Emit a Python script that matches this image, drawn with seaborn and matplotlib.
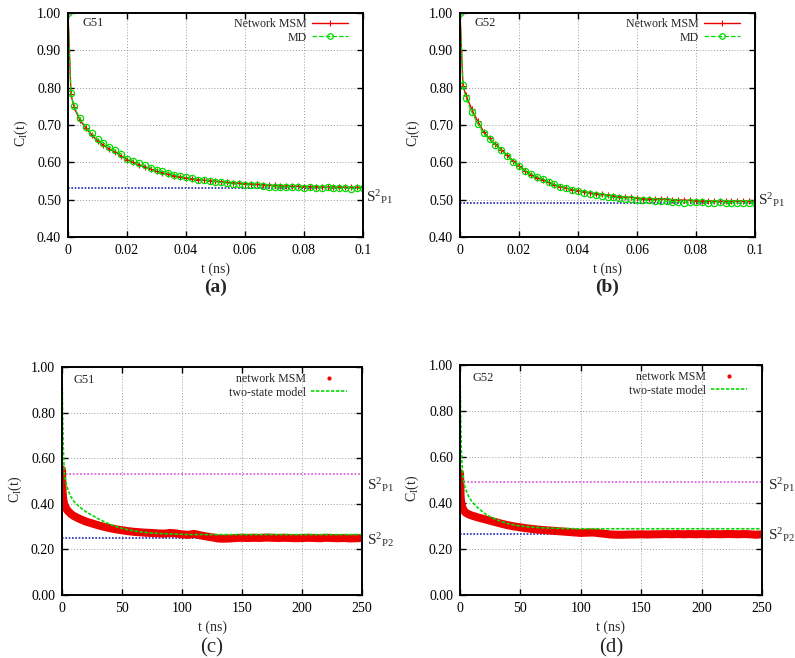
import numpy as np
import pandas as pd
import matplotlib
matplotlib.use("Agg")
import matplotlib.pyplot as plt
import seaborn as sns
from matplotlib.lines import Line2D

# tiempos (ns)
t_top = [0, 0.001] + [round(0.002 * k, 3) for k in range(1, 51)]
t_bot = [0, 0.5, 1, 2, 3, 4, 5, 7.5] + list(range(10, 251, 5))

# panel (a) G51, ventana corta
msm_a = [1.000, 0.783, 0.748, 0.714, 0.692, 0.674, 0.657, 0.646, 0.636, 0.627, 0.617, 0.607, 0.600,
         0.594, 0.588, 0.582, 0.576, 0.572, 0.568, 0.564, 0.561, 0.558, 0.556, 0.554, 0.552, 0.551,
         0.549, 0.548, 0.546, 0.545, 0.544, 0.543, 0.542, 0.541, 0.540, 0.539, 0.538, 0.537, 0.537,
         0.536, 0.536, 0.535, 0.535, 0.535, 0.534, 0.534, 0.534, 0.534, 0.533, 0.533, 0.533, 0.533]
md_a = [1.000, 0.785, 0.750, 0.718, 0.695, 0.678, 0.662, 0.652, 0.642, 0.632, 0.622, 0.610, 0.604,
        0.598, 0.592, 0.586, 0.580, 0.576, 0.572, 0.567, 0.563, 0.560, 0.557, 0.554, 0.552, 0.550,
        0.548, 0.546, 0.544, 0.542, 0.541, 0.540, 0.539, 0.538, 0.537, 0.533, 0.535, 0.534, 0.534,
        0.533, 0.533, 0.532, 0.533, 0.532, 0.532, 0.533, 0.532, 0.530, 0.531, 0.529, 0.530, 0.531]

# panel (b) G52, ventana corta
msm_b = [1.000, 0.805, 0.780, 0.742, 0.710, 0.682, 0.664, 0.648, 0.634, 0.619, 0.604, 0.590, 0.578,
         0.567, 0.558, 0.553, 0.546, 0.540, 0.535, 0.531, 0.527, 0.524, 0.521, 0.518, 0.516, 0.514,
         0.512, 0.510, 0.508, 0.507, 0.506, 0.505, 0.503, 0.502, 0.502, 0.503, 0.502, 0.500, 0.499,
         0.499, 0.498, 0.497, 0.497, 0.497, 0.496, 0.496, 0.496, 0.496, 0.497, 0.496, 0.496, 0.496]
md_b = [1.000, 0.808, 0.772, 0.735, 0.703, 0.678, 0.662, 0.647, 0.633, 0.618, 0.602, 0.589, 0.578,
        0.569, 0.562, 0.556, 0.548, 0.541, 0.535, 0.531, 0.527, 0.523, 0.519, 0.516, 0.512, 0.510,
        0.508, 0.506, 0.504, 0.502, 0.501, 0.500, 0.499, 0.498, 0.497, 0.496, 0.496, 0.495, 0.494,
        0.492, 0.494, 0.493, 0.493, 0.492, 0.492, 0.493, 0.492, 0.492, 0.490, 0.491, 0.491, 0.492]

# panel (c) G51, ventana larga
msm_c = [0.55, 0.45, 0.42, 0.395, 0.385, 0.375, 0.368, 0.355,
         0.346, 0.333, 0.322, 0.314, 0.306, 0.299, 0.293, 0.288, 0.284,
         0.280, 0.277, 0.275, 0.273, 0.272, 0.270, 0.269, 0.272, 0.270, 0.266,
         0.264, 0.268, 0.262, 0.257, 0.253, 0.248, 0.247, 0.248, 0.250, 0.251,
         0.250, 0.251, 0.250, 0.252, 0.251, 0.250, 0.251, 0.250, 0.249, 0.250,
         0.251, 0.250, 0.249, 0.251, 0.250, 0.249, 0.250, 0.248, 0.249, 0.250]
two_c = [1.00, 0.80, 0.65, 0.53, 0.50, 0.48, 0.46, 0.43,
         0.410, 0.385, 0.365, 0.350, 0.335, 0.322, 0.310, 0.300, 0.292,
         0.286, 0.281, 0.277, 0.274, 0.272, 0.270, 0.269, 0.268, 0.267, 0.266,
         0.265, 0.265, 0.265, 0.265, 0.265, 0.265, 0.265, 0.265, 0.265, 0.265,
         0.265, 0.265, 0.265, 0.265, 0.265, 0.265, 0.265, 0.265, 0.265, 0.265,
         0.265, 0.265, 0.265, 0.265, 0.265, 0.265, 0.265, 0.265, 0.265, 0.265]

# panel (d) G52, ventana larga
msm_d = [0.53, 0.43, 0.40, 0.380, 0.370, 0.362, 0.357, 0.350,
         0.345, 0.337, 0.330, 0.323, 0.316, 0.309, 0.303, 0.298, 0.294,
         0.290, 0.287, 0.284, 0.282, 0.280, 0.278, 0.276, 0.274, 0.272, 0.270,
         0.271, 0.272, 0.269, 0.266, 0.263, 0.262, 0.262, 0.263, 0.263, 0.264,
         0.263, 0.264, 0.264, 0.265, 0.264, 0.265, 0.264, 0.265, 0.264, 0.265,
         0.264, 0.265, 0.264, 0.265, 0.265, 0.264, 0.265, 0.264, 0.262, 0.264]
two_d = [1.00, 0.78, 0.64, 0.54, 0.50, 0.47, 0.455, 0.425,
         0.405, 0.378, 0.356, 0.340, 0.328, 0.318, 0.310, 0.304, 0.300,
         0.297, 0.295, 0.293, 0.292, 0.291, 0.290, 0.289, 0.289, 0.288, 0.288,
         0.288, 0.288, 0.288, 0.288, 0.288, 0.288, 0.288, 0.288, 0.288, 0.288,
         0.288, 0.288, 0.288, 0.288, 0.288, 0.288, 0.288, 0.288, 0.288, 0.288,
         0.288, 0.288, 0.288, 0.288, 0.288, 0.288, 0.288, 0.288, 0.288, 0.288]

# parametros de orden
s2p1 = {"G51": 0.53, "G52": 0.49}
s2p2 = {"G51": 0.25, "G52": 0.265}

RED = "#ee0000"
GREEN = "#00dd00"
BLUE = "#2020b0"
MAGENTA = "#dd66dd"

sns.set_theme(style="ticks")
plt.rcParams["font.family"] = ["Liberation Serif", "DejaVu Serif"]
plt.rcParams["mathtext.fontset"] = "stix"

fig = plt.figure(figsize=(7.95, 6.58), dpi=100)
W, H = 795, 658


def axes_px(left, top, right, bottom):
    return fig.add_axes([left / W, 1 - bottom / H, (right - left) / W, (bottom - top) / H])


def style_axes(ax):
    for sp in ax.spines.values():
        sp.set_linewidth(1.4)
        sp.set_color("black")
    ax.tick_params(direction="in", top=True, right=True, length=4, width=1,
                   labelsize=10, colors="black", pad=5)
    ax.grid(True, color="#9a9a9a", linestyle=(0, (1, 2)), linewidth=0.7)
    ax.set_ylabel(r"$\mathregular{C_I(t)}$", fontsize=10)
    ax.yaxis.set_label_coords(-0.128, 0.465)


def s2_label(ax, box, x_px, y_px, sub):
    # y_px: centro de la "S" en pixeles de la figura
    fx = (x_px - box[0]) / (box[2] - box[0])
    fy = (box[3] - (y_px + 5)) / (box[3] - box[1])
    ax.text(fx, fy, r"$\mathregular{S^2{}_{%s}}$" % sub, transform=ax.transAxes,
            fontsize=11, va="baseline", ha="left", clip_on=False)


def add_legend(ax, handles, labels, anchor):
    ax.legend(handles, labels, loc="upper right", bbox_to_anchor=anchor, frameon=False,
              markerfirst=False, fontsize=8.6, handlelength=3.0, handletextpad=0.45,
              labelspacing=0.1, borderaxespad=0, borderpad=0)


# ---- paneles superiores ----
top_panels = [("G51", msm_a, md_a, (68, 13, 363, 237), "(a)", (366, 197)),
              ("G52", msm_b, md_b, (460, 13, 755, 237), "(b)", (758, 200))]
for name, msm, md, box, letter, lab in top_panels:
    ax = axes_px(*box)
    df = pd.DataFrame({"t": t_top, "msm": msm, "md": md})
    ax.axhline(s2p1[name], color=BLUE, linestyle=(0, (1, 1)), linewidth=1.2)
    sns.lineplot(data=df, x="t", y="msm", ax=ax, color=RED, linewidth=1, marker="+",
                 markersize=5, markeredgewidth=0.8, markeredgecolor=RED)
    sns.lineplot(data=df, x="t", y="md", ax=ax, color=GREEN, linewidth=0.9, linestyle="--",
                 marker="o", markersize=4.5, markerfacecolor="none", markeredgecolor=GREEN,
                 markeredgewidth=0.9)
    ax.set_xlim(0, 0.1)
    ax.set_ylim(0.4, 1.0)
    ax.set_xticks([0, 0.02, 0.04, 0.06, 0.08, 0.1])
    ax.set_xticklabels(["0", "0.02", "0.04", "0.06", "0.08", "0.1"])
    ax.set_yticks(np.arange(0.4, 1.01, 0.1))
    ax.set_yticklabels(["%.2f" % v for v in np.arange(0.4, 1.01, 0.1)])
    style_axes(ax)
    ax.set_xlabel("t (ns)", fontsize=10, labelpad=4)
    ax.text(0.05, 0.955, name, transform=ax.transAxes, fontsize=9, va="center")
    s2_label(ax, box, lab[0], lab[1], "P1")
    handles = [Line2D([], [], color=RED, lw=1, marker="+", markersize=5, markeredgewidth=0.8),
               Line2D([], [], color=GREEN, lw=0.9, ls="--", marker="o", markersize=4,
                      markerfacecolor="none", markeredgewidth=0.9)]
    add_legend(ax, handles, ["Network MSM", "MD"], (0.95, 0.976))
    cx = (box[0] + box[2]) / 2 / W
    fig.text(cx, 1 - 287 / H, letter, fontsize=14, fontweight="bold", ha="center", va="center")

# ---- paneles inferiores ----
bot_panels = [("G51", msm_c, two_c, (62, 367, 362, 595), "(c)", [(367, 485, "P1"), (367, 540, "P2")]),
              ("G52", msm_d, two_d, (460, 365, 762, 595), "(d)", [(768, 485, "P1"), (768, 535, "P2")])]
for name, msm, two, box, letter, labs in bot_panels:
    ax = axes_px(*box)
    df = pd.DataFrame({"t": t_bot, "msm": msm, "two": two})
    ax.axhline(s2p1[name], color=MAGENTA, linestyle=(0, (1, 1)), linewidth=1.3)
    ax.axhline(s2p2[name], color=BLUE, linestyle=(0, (1, 1)), linewidth=1.2)
    sns.lineplot(data=df, x="t", y="msm", ax=ax, color=RED, linewidth=5.8,
                 solid_capstyle="round", solid_joinstyle="round")
    sns.lineplot(data=df, x="t", y="two", ax=ax, color=GREEN, linewidth=1.2,
                 linestyle=(0, (2, 1)))
    ax.set_xlim(0, 250)
    ax.set_ylim(0, 1.0)
    ax.set_xticks([0, 50, 100, 150, 200, 250])
    ax.set_yticks(np.arange(0, 1.01, 0.2))
    ax.set_yticklabels(["%.2f" % v for v in np.arange(0, 1.01, 0.2)])
    style_axes(ax)
    ax.set_xlabel("t (ns)", fontsize=10, labelpad=4)
    ax.text(0.04, 0.943, name, transform=ax.transAxes, fontsize=9, va="center")
    for lx, ly, sub in labs:
        s2_label(ax, box, lx, ly, sub)
    handles = [Line2D([], [], color=RED, lw=0, marker=".", markersize=4),
               Line2D([], [], color=GREEN, lw=1.2, ls=(0, (2, 1)))]
    add_legend(ax, handles, ["network MSM", "two-state model"], (0.95, 0.972))
    cx = (box[0] + box[2]) / 2 / W
    fig.text(cx, 1 - 648 / H, letter, fontsize=15, ha="center", va="center")

fig.savefig("out.png", dpi=100)
